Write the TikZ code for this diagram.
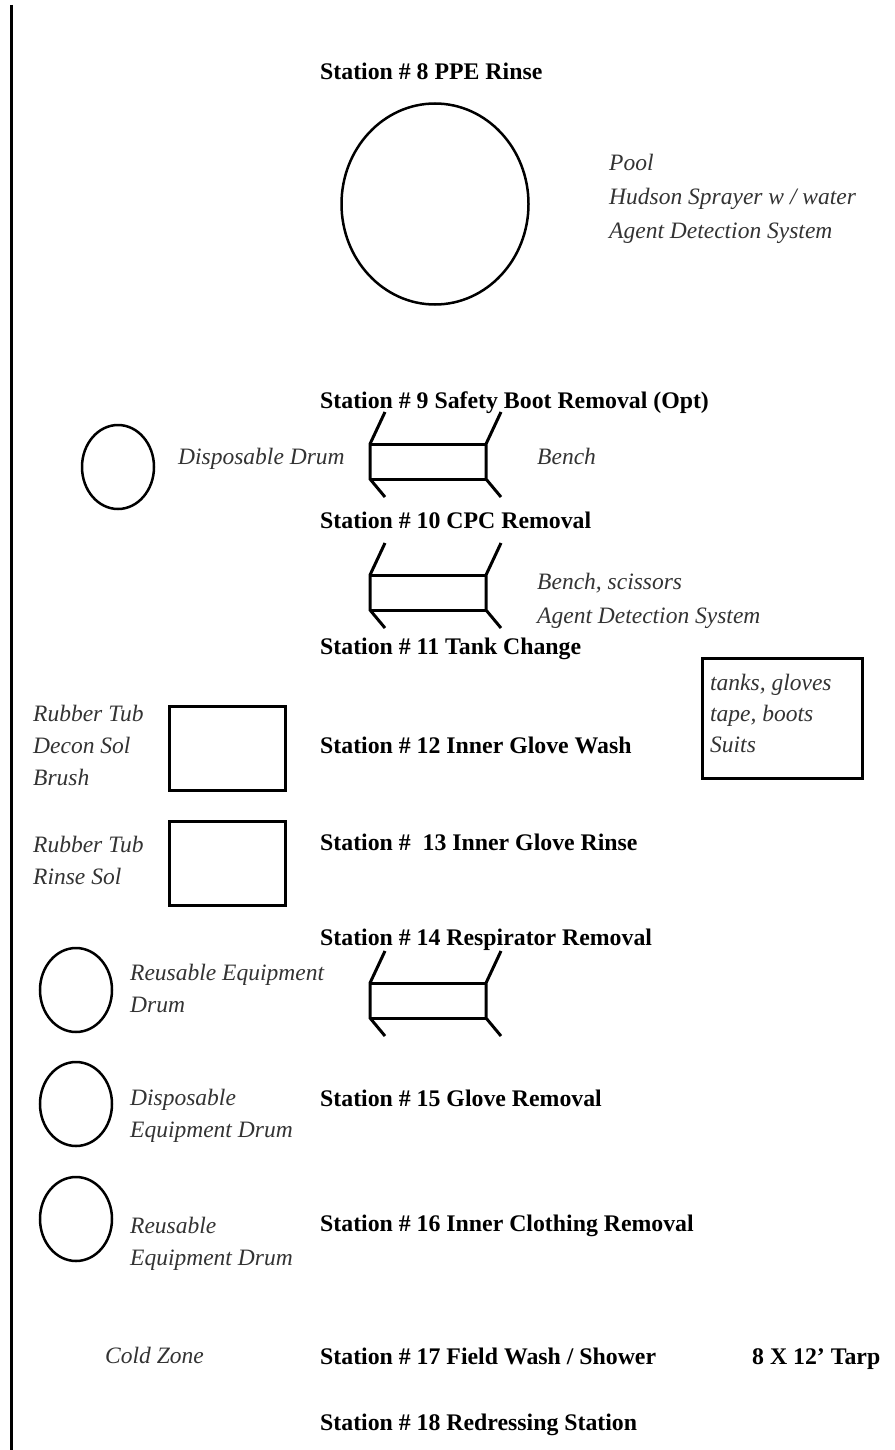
\documentclass[tikz,border=0pt]{standalone}
\usepackage{fontspec}
\setmainfont{Liberation Serif}
\usetikzlibrary{shapes.geometric}
\definecolor{labelgray}{HTML}{333333}
\begin{document}
\begin{tikzpicture}[x=1pt,y=-1pt,
  title/.style={anchor=base west,inner sep=0pt,font=\fontsize{23.8}{34}\selectfont\bfseries},
  note/.style={anchor=base west,inner sep=0pt,align=left,text=labelgray,font=\fontsize{23.5}{32}\selectfont\itshape},
  widenote/.style={note,font=\fontsize{23.5}{34}\selectfont\itshape},
  tightnote/.style={note,font=\fontsize{23.5}{31}\selectfont\itshape},
  drum/.style={draw,ellipse,line width=2.5pt,minimum width=72pt,minimum height=84pt,inner sep=0pt},
  tub/.style={draw,line width=2.5pt,minimum width=116pt,minimum height=84pt,inner sep=0pt,anchor=north west},
  benchline/.style={line width=3pt,line cap=butt,line join=miter},
  benchpic/.pic={
    \draw[benchline] (15,-32) -- (0,0) -- (0,35) -- (15,53);
    \draw[benchline] (131,-32) -- (116,0) -- (116,35) -- (131,53);
    \draw[benchline] (0,0) -- (116,0);
    \draw[benchline] (0,35) -- (116,35);
  }]
\useasboundingbox (0,0) rectangle (894,1450);
\fill[white] (0,0) rectangle (894,1450);
% zone boundary line
\coordinate (ztop) at (11,5);
\coordinate (zbot) at (11,1450);
\draw[line width=3pt] (ztop) -- (zbot);

% Station 8
\node[title] (s8) at (320,80) {Station \# 8 PPE Rinse};
\node[draw,ellipse,line width=2.5pt,minimum width=187pt,minimum height=201pt,inner sep=0pt] (pool) at (435,204) {};
\node[widenote] (poolnote) at (609,238) {Pool\\Hudson Sprayer w / water\\Agent Detection System};

% Station 9
\node[title] (s9) at (320,408) {Station \# 9 Safety Boot Removal (Opt)};
\node[drum] (drum9) at (118,467) {};
\node[note] (drum9note) at (178,464) {Disposable Drum};
\pic at (370,444) {benchpic};
\node[note] (bench9note) at (537,464) {Bench};

% Station 10
\node[title] (s10) at (320,528) {Station \# 10 CPC Removal};
\pic at (370,575) {benchpic};
\node[widenote] (bench10note) at (537,623) {Bench, scissors\\Agent Detection System};

% Station 11
\node[title] (s11) at (320,654) {Station \# 11 Tank Change};
\node[draw,line width=2.5pt,minimum width=160pt,minimum height=120pt,inner sep=0pt,anchor=north west] (supply) at (701,657) {};
\node[tightnote] (supplynote) at (710,752) {tanks, gloves\\tape, boots\\Suits};

% Station 12
\node[title] (s12) at (320,753) {Station \# 12 Inner Glove Wash};
\node[tub] (tub12) at (168,705) {};
\node[note] (tub12note) at (33,785) {Rubber Tub\\Decon Sol\\Brush};

% Station 13
\node[title] (s13) at (320,850) {Station \#\ \ 13 Inner Glove Rinse};
\node[tub] (tub13) at (168,820) {};
\node[note] (tub13note) at (33,884) {Rubber Tub\\Rinse Sol};

% Station 14
\node[title] (s14) at (320,945) {Station \# 14 Respirator Removal};
\pic at (370,983) {benchpic};
\node[drum] (drum14) at (76,990) {};
\node[note] (drum14note) at (130,1012) {Reusable Equipment\\Drum};

% Station 15
\node[title] (s15) at (320,1106) {Station \# 15 Glove Removal};
\node[drum] (drum15) at (76,1104) {};
\node[note] (drum15note) at (130,1137) {Disposable\\Equipment Drum};

% Station 16
\node[title] (s16) at (320,1231) {Station \# 16 Inner Clothing Removal};
\node[drum] (drum16) at (76,1219) {};
\node[note] (drum16note) at (130,1265) {Reusable\\Equipment Drum};

% Station 17
\node[note] (cold) at (105,1363) {Cold Zone};
\node[title] (s17) at (320,1364) {Station \# 17 Field Wash / Shower};
\node[title] (tarp) at (752,1364) {8 X 12’ Tarp};

% Station 18
\node[title] (s18) at (320,1430) {Station \# 18 Redressing Station};
\end{tikzpicture}
\end{document}
